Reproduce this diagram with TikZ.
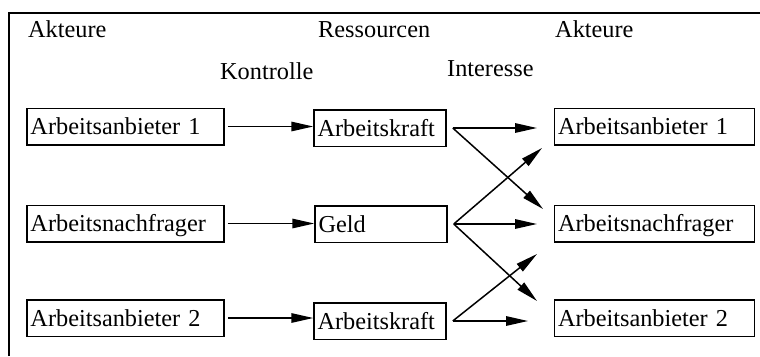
\documentclass[tikz,border=0pt]{standalone}
\usepackage{fontspec}
\setmainfont{Liberation Serif}
\usetikzlibrary{arrows.meta}
\begin{document}
\begin{tikzpicture}[x=1pt,y=-1pt,
  every node/.style={font=\fontsize{24.3}{29}\selectfont},
  box/.style={draw, line width=1.5pt, minimum height=36.5pt, inner xsep=3.5pt, inner ysep=0pt, text height=17.6pt, text depth=1.4pt, align=left},
  lbox/.style={box, text width=190pt},
  mbox/.style={box, text width=125pt},
  rbox/.style={box, text width=193pt},
  arr/.style={line width=1.5pt, -{Triangle[length=22pt,width=9.5pt]}},
  lab/.style={anchor=base west, inner sep=0pt}]
\useasboundingbox (0,0) rectangle (760,356);
\draw[line width=2.2pt] (9,356) -- (9,13) -- (760,13);

\node[lab] (h1) at (28,37) {Akteure};
\node[lab] (h2) at (318,37) {Ressourcen};
\node[lab] (h3) at (555,37) {Akteure};
\node[lab] (ko) at (220,79) {Kontrolle};
\node[lab] (in) at (447,76) {Interesse};

\node[lbox] (L1) at (125.5,126.5) {Arbeitsanbieter 1};
\node[lbox] (L2) at (125.5,223.5) {Arbeitsnachfrager};
\node[lbox] (L3) at (125.5,318) {Arbeitsanbieter 2};

\node[mbox] (M1) at (380,128) {Arbeitskraft};
\node[mbox] (M2) at (381,224) {Geld};
\node[mbox] (M3) at (380,321) {Arbeitskraft};

\node[rbox] (R1) at (654.5,126.5) {Arbeitsanbieter 1};
\node[rbox] (R2) at (654.5,223.5) {Arbeitsnachfrager};
\node[rbox] (R3) at (654.5,318) {Arbeitsanbieter 2};

\draw[arr] ([xshift=3pt]L1.east) -- (L1.east -| M1.west);
\draw[arr] ([xshift=3pt]L2.east) -- (L2.east -| M2.west);
\draw[arr] ([xshift=3pt]L3.east) -- (L3.east -| M3.west);

\coordinate (s1) at ([xshift=6pt]M1.east);
\coordinate (s2) at ([xshift=6pt]M2.east);
\coordinate (s3) at ([xshift=6pt]M3.east);

\coordinate (e1a) at (537,128);
\coordinate (e1b) at (543,209);
\coordinate (e2a) at (542,148);
\coordinate (e2b) at (537,224);
\coordinate (e2c) at (537,301);
\coordinate (e3a) at (537,254);
\coordinate (e3b) at (528,321);

\draw[arr] (s1) -- (e1a);
\draw[arr] (s1) -- (e1b);
\draw[arr] (s2) -- (e2a);
\draw[arr] (s2) -- (e2b);
\draw[arr] (s2) -- (e2c);
\draw[arr] (s3) -- (e3a);
\draw[arr] (s3) -- (e3b);
\end{tikzpicture}
\end{document}
